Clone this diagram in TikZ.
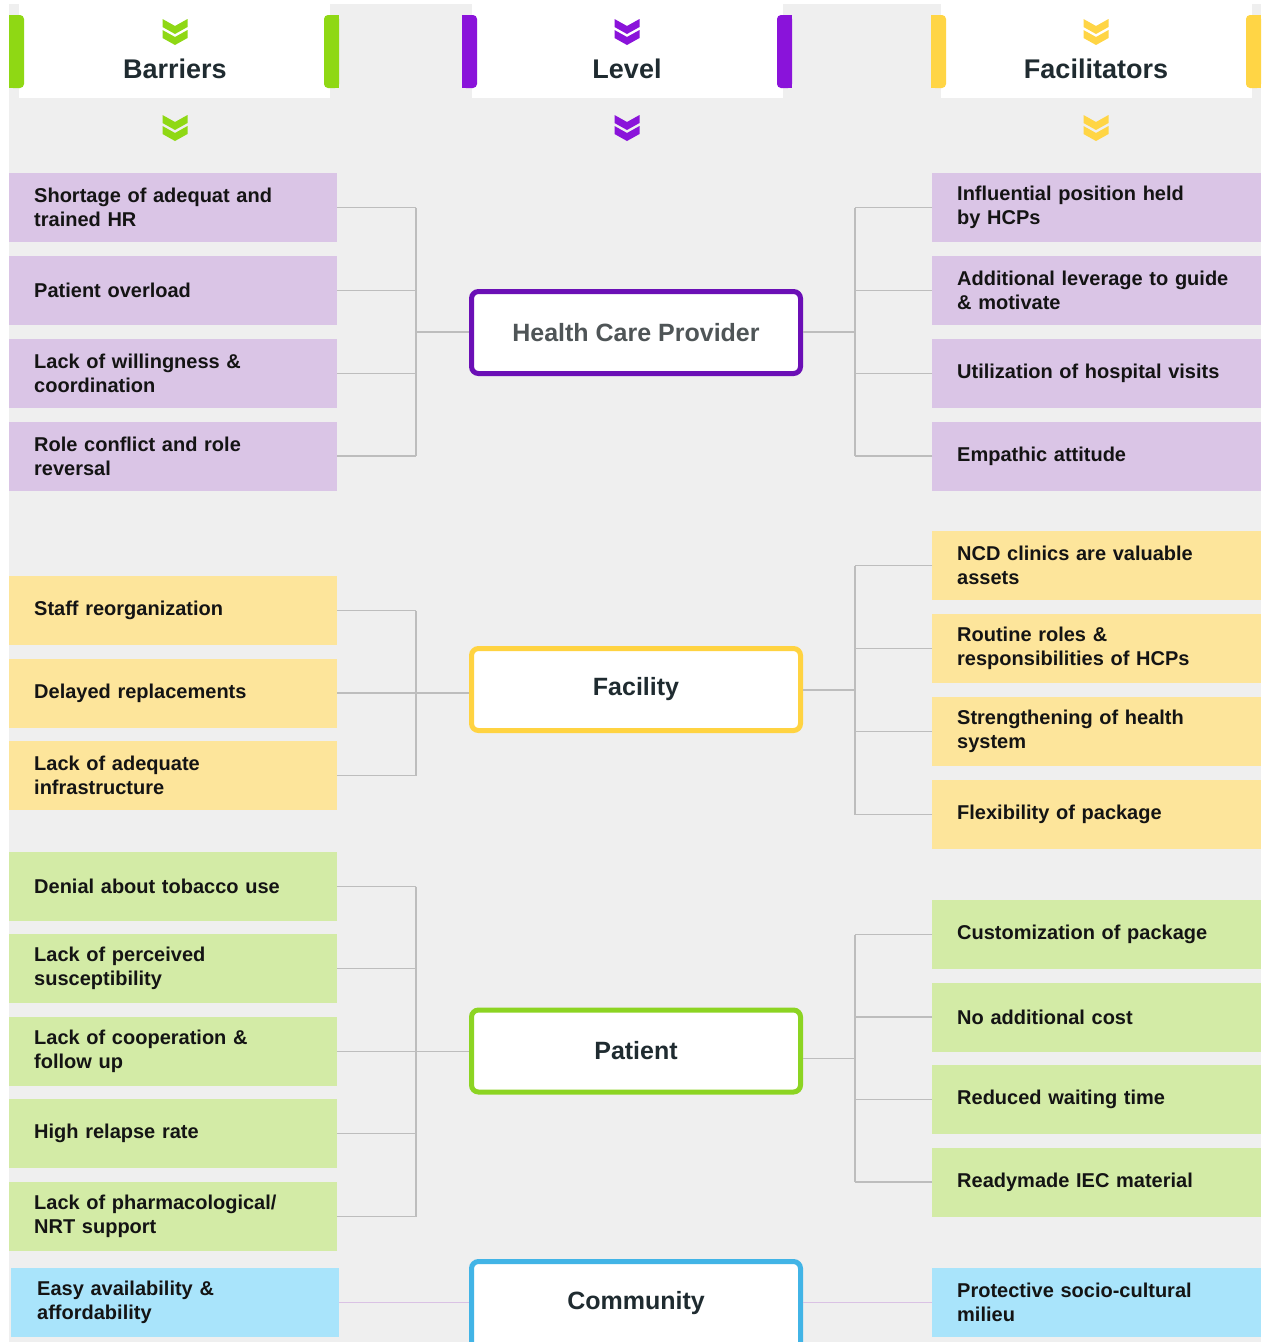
\documentclass[tikz,border=0pt]{standalone}
\usepackage{fontspec}
\setmainfont{Liberation Sans}
\usetikzlibrary{calc}

\definecolor{panelgray}{HTML}{EFEFEF}
\definecolor{accgreen}{HTML}{8FD814}
\definecolor{accpurple}{HTML}{8A13DA}
\definecolor{accyellow}{HTML}{FFD545}
\definecolor{fillpurple}{HTML}{DAC5E6}
\definecolor{fillyellow}{HTML}{FDE59B}
\definecolor{fillgreen}{HTML}{D3EBA6}
\definecolor{fillblue}{HTML}{A9E4FB}
\definecolor{hubpurple}{HTML}{6B0FB6}
\definecolor{hubyellow}{HTML}{FFD341}
\definecolor{hubgreen}{HTML}{8CD422}
\definecolor{hubblue}{HTML}{42B4E6}
\definecolor{linkgray}{HTML}{BDBDBD}
\definecolor{linkpink}{HTML}{DAC2E4}
\definecolor{headtext}{HTML}{1F2B30}
\definecolor{itemtext}{HTML}{141414}
\definecolor{softtext}{HTML}{4F5557}

% double chevron: colour, centre x, top y
\newcommand\dchev[3]{%
  \fill[#1, shift={(#2,#3)}] (-12.5,0) -- (0,7) -- (12.5,0) -- (12.5,8) -- (0,15) -- (-12.5,8) -- cycle;
  \fill[#1, shift={(#2,#3+11)}] (-12.5,0) -- (0,7) -- (12.5,0) -- (12.5,8) -- (0,15) -- (-12.5,8) -- cycle;
}
% header panel: colour, left x, right x (white part between the bars)
\newcommand\headpanel[3]{%
  \fill[white] (#2+10,4) rectangle (#3-9,98);
  \fill[#1, rounded corners=4pt] (#2,15) rectangle (#2+15,88);
  \fill[#1] (#2,15) rectangle (#2+8,88);
  \fill[#1, rounded corners=4pt] (#3-15,15) rectangle (#3,88);
  \fill[#1] (#3-8,15) rectangle (#3,88);
}

\begin{document}
\begin{tikzpicture}[x=1pt, y=-1pt,
  item/.style={rectangle, anchor=west, inner xsep=25pt, inner ysep=0pt,
    minimum height=69pt, align=left, text=itemtext,
    font=\bfseries\fontsize{20}{24}\selectfont},
  litem/.style={item, text width=278pt, minimum width=328pt},
  ritem/.style={item, text width=279pt, minimum width=329pt},
  hub/.style={draw, line width=5pt, rounded corners=7pt, fill=white,
    minimum width=329pt, minimum height=82pt, text=headtext,
    font=\bfseries\fontsize{25}{30}\selectfont},
  hubtext/.style={text=headtext, font=\bfseries\fontsize{25}{30}\selectfont},
  headlabel/.style={text=headtext, font=\bfseries\fontsize{27}{32}\selectfont},
  conn/.style={draw=linkgray, line width=1.5pt},
  commlink/.style={draw=linkpink, line width=1.5pt}]

\useasboundingbox (0,0) rectangle (1264,1342);
\fill[white] (0,0) rectangle (1264,1342);
\fill[panelgray] (9,4) rectangle (1261,1342);

% column headers
\headpanel{accgreen}{9}{339}
\headpanel{accpurple}{462}{792}
\headpanel{accyellow}{931}{1261}
\node[headlabel] (hbar) at (175,69) {Barriers};
\node[headlabel] (hlev) at (627,69) {Level};
\node[headlabel] (hfac) at (1096,69) {Facilitators};
\dchev{accgreen}{175}{19}
\dchev{accpurple}{627}{19}
\dchev{accyellow}{1096}{19}
\dchev{accgreen}{175}{115}
\dchev{accpurple}{627}{115}
\dchev{accyellow}{1096}{115}

% levels
\node[hub, draw=hubpurple, text=softtext] (hcp) at (636,332.5) {Health Care Provider};
\node[hub, draw=hubyellow] (fac) at (636,689.5) {Facility};
\node[hub, draw=hubgreen] (pat) at (636,1051) {Patient};
% the community frame runs on past the lower edge
\node[hub, draw=hubblue, minimum height=110pt, anchor=north] (com) at (636,1259) {};
\node[hubtext] (comlabel) at (636,1303.5) {Community};

% barriers
\node[litem, fill=fillpurple] (lh1) at (9,207.5) {Shortage of adequat and\\trained HR};
\node[litem, fill=fillpurple] (lh2) at (9,290.5) {Patient overload};
\node[litem, fill=fillpurple] (lh3) at (9,373.5) {Lack of willingness \&\\coordination};
\node[litem, fill=fillpurple] (lh4) at (9,456) {Role conflict and role\\reversal};

\node[litem, fill=fillyellow] (lf1) at (9,610.5) {Staff reorganization};
\node[litem, fill=fillyellow] (lf2) at (9,693) {Delayed replacements};
\node[litem, fill=fillyellow] (lf3) at (9,775.5) {Lack of adequate\\infrastructure};

\node[litem, fill=fillgreen] (lp1) at (9,886.5) {Denial about tobacco use};
\node[litem, fill=fillgreen] (lp2) at (9,968.5) {Lack of perceived\\susceptibility};
\node[litem, fill=fillgreen] (lp3) at (9,1051.5) {Lack of cooperation \&\\follow up};
\node[litem, fill=fillgreen] (lp4) at (9,1133.5) {High relapse rate};
\node[litem, fill=fillgreen] (lp5) at (9,1216.5) {Lack of pharmacological/\\NRT support};

\node[item, text width=276pt, minimum width=328pt, fill=fillblue, inner xsep=26pt] (lc1) at (11,1302.5) {Easy availability \&\\affordability};

% facilitators
\node[ritem, fill=fillpurple] (rh1) at (932,207.5) {Influential position held\\by HCPs};
\node[ritem, fill=fillpurple] (rh2) at (932,290.5) {Additional leverage to guide\\\& motivate};
\node[ritem, fill=fillpurple] (rh3) at (932,373.5) {Utilization of hospital visits};
\node[ritem, fill=fillpurple] (rh4) at (932,456) {Empathic attitude};

\node[ritem, fill=fillyellow] (rf1) at (932,565.5) {NCD clinics are valuable\\assets};
\node[ritem, fill=fillyellow] (rf2) at (932,648.5) {Routine roles \&\\responsibilities of HCPs};
\node[ritem, fill=fillyellow] (rf3) at (932,731.5) {Strengthening of health\\system};
\node[ritem, fill=fillyellow] (rf4) at (932,814.5) {Flexibility of package};

\node[ritem, fill=fillgreen] (rp1) at (932,934.5) {Customization of package};
\node[ritem, fill=fillgreen] (rp2) at (932,1017) {No additional cost};
\node[ritem, fill=fillgreen] (rp3) at (932,1099.5) {Reduced waiting time};
\node[ritem, fill=fillgreen] (rp4) at (932,1182) {Readymade IEC material};

\node[ritem, fill=fillblue] (rc1) at (932,1302.5) {Protective socio-cultural\\milieu};

% bracket lines
\coordinate (bxl) at (416,0);
\coordinate (bxr) at (855,0);

% left brackets
\foreach \n in {lh1,lh2,lh3,lh4,lf1,lf2,lf3,lp1,lp2,lp3,lp4,lp5}
  \draw[conn] (\n.east) -- (\n.east -| bxl);
\draw[conn] (lh1.east -| bxl) -- (lh4.east -| bxl);
\draw[conn] (lf1.east -| bxl) -- (lf3.east -| bxl);
\draw[conn] (lp1.east -| bxl) -- (lp5.east -| bxl);
\coordinate (mlh) at ($(lh1.east)!.5!(lh4.east)$);
\coordinate (mlf) at ($(lf1.east)!.5!(lf3.east)$);
\coordinate (mlp) at ($(lp1.east)!.5!(lp5.east)$);
\draw[conn] (mlh -| bxl) -- (mlh -| hcp.west);
\draw[conn] (mlf -| bxl) -- (mlf -| fac.west);
\draw[conn] (mlp -| bxl) -- (mlp -| pat.west);

% right brackets
\foreach \n in {rh1,rh2,rh3,rh4,rf1,rf2,rf3,rf4,rp1,rp2,rp3,rp4}
  \draw[conn] (\n.west) -- (\n.west -| bxr);
\draw[conn] (rh1.west -| bxr) -- (rh4.west -| bxr);
\draw[conn] (rf1.west -| bxr) -- (rf4.west -| bxr);
\draw[conn] (rp1.west -| bxr) -- (rp4.west -| bxr);
\coordinate (mrh) at ($(rh1.west)!.5!(rh4.west)$);
\coordinate (mrf) at ($(rf1.west)!.5!(rf4.west)$);
\coordinate (mrp) at ($(rp1.west)!.5!(rp4.west)$);
\draw[conn] (mrh -| hcp.east) -- (mrh -| bxr);
\draw[conn] (mrf -| fac.east) -- (mrf -| bxr);
\draw[conn] (mrp -| pat.east) -- (mrp -| bxr);

% community links
\draw[commlink] (lc1.east) -- (com.west |- lc1.east);
\draw[commlink] (com.east |- rc1.west) -- (rc1.west);

\end{tikzpicture}
\end{document}
